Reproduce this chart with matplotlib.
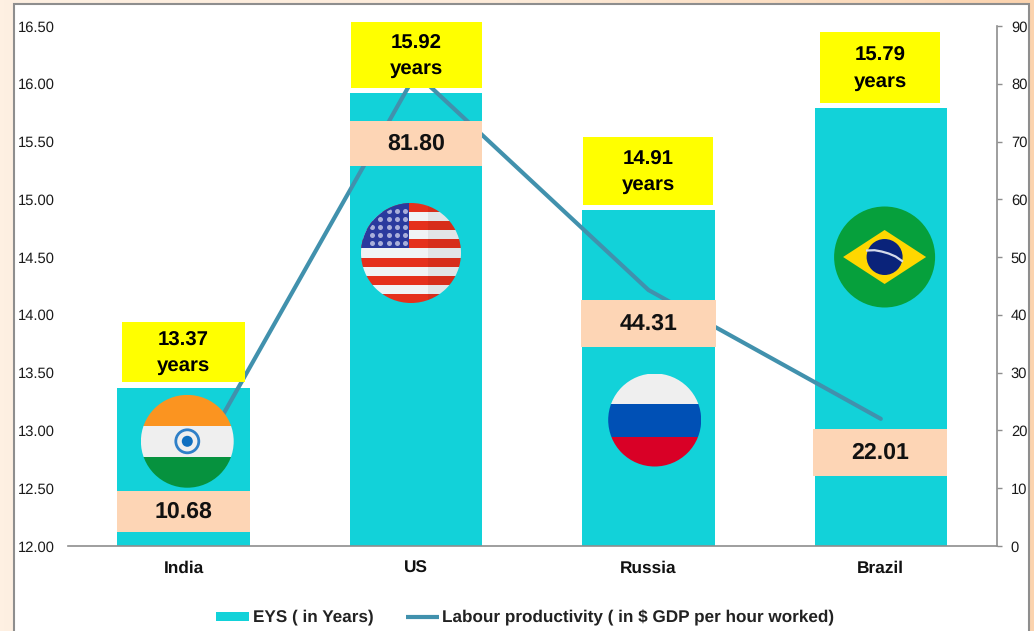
import numpy as np
import matplotlib
matplotlib.use('Agg')
import matplotlib.pyplot as plt
from matplotlib.patches import Rectangle, Circle, Polygon

plt.rcParams['font.family'] = ['Liberation Sans', 'DejaVu Sans']
plt.rcParams['text.hinting'] = 'none'

countries = ['India', 'US', 'Russia', 'Brazil']
eys = [13.37, 15.92, 14.91, 15.79]
productivity = [10.68, 81.80, 44.31, 22.01]
eys_ticks = [12, 12.5, 13, 13.5, 14, 14.5, 15, 15.5, 16, 16.5]
prod_ticks = [0, 10, 20, 30, 40, 50, 60, 70, 80, 90]

W, H = 1034, 631
TEAL = '#12D2D9'
LINE = '#4191AD'
PEACH = '#FDD5B5'
GREY = '#8E8E8E'

fig = plt.figure(figsize=(W / 100, H / 100), dpi=100)

# fondo degradado y panel blanco
bg = fig.add_axes([0, 0, 1, 1], zorder=0)
bg.imshow(np.linspace(0, 1, 256).reshape(1, -1), aspect='auto', extent=[0, W, H, 0],
          cmap=matplotlib.colors.LinearSegmentedColormap.from_list('bg', ['#FEF0E2', '#FDEBD9', '#FBD3AE']))
bg.add_patch(Rectangle((14, 4), 1015, H, fc='white', ec=GREY, lw=1.5))
bg.set_xlim(0, W)
bg.set_ylim(H, 0)
bg.axis('off')

# ejes principales
left, right, top, bottom = 67.5, 997, 26, 546
ax = fig.add_axes([left / W, 1 - bottom / H, (right - left) / W, (bottom - top) / H], zorder=1)
ax.patch.set_alpha(0)
x = np.arange(len(countries))
ax.bar(x, eys, width=0.57, color=TEAL, label='EYS ( in Years)')
ax.set_xlim(-0.5, 3.5)
ax.set_ylim(12, 16.5)
ax.set_xticks(x)
ax.set_xticklabels(countries, fontsize=12.4, fontweight='bold', color='#111111')
ax.set_yticks(eys_ticks)
ax.set_yticklabels(['%.2f' % t for t in eys_ticks], fontsize=10.6, color='#1A1A1A')
ax.tick_params(axis='x', length=0, pad=10.5)
ax.tick_params(axis='y', length=0, pad=9)
for s in ['top', 'left', 'right']:
    ax.spines[s].set_visible(False)
ax.spines['bottom'].set_color(GREY)
ax.spines['bottom'].set_linewidth(1.2)

ax2 = ax.twinx()
ax2.patch.set_alpha(0)
ax2.plot(x, productivity, color=LINE, lw=3, solid_capstyle='round',
         label='Labour productivity ( in $ GDP per hour worked)')
ax2.set_ylim(0, 90)
ax2.set_yticks(prod_ticks)
ax2.tick_params(axis='y', length=3.5, width=1, color=GREY, labelsize=10.6, labelcolor='#1A1A1A', pad=6.5)
for s in ['top', 'left', 'bottom']:
    ax2.spines[s].set_visible(False)
ax2.spines['right'].set_color(GREY)
ax2.spines['right'].set_linewidth(1.2)

# capa de etiquetas y banderas en pixeles
ov = fig.add_axes([0, 0, 1, 1], zorder=3)
ov.set_xlim(0, W)
ov.set_ylim(H, 0)
ov.axis('off')
ov.patch.set_alpha(0)

yellow_boxes = [(122, 322, 245, 382), (351, 22, 482, 88), (583, 137, 713, 205), (820, 32, 940, 103)]
peach_boxes = [(117, 491, 250, 532), (350, 121, 482, 166), (581, 300, 716, 347), (813, 429, 947, 476)]
for i in range(4):
    a, b, c, d = yellow_boxes[i]
    ov.add_patch(Rectangle((a, b), c - a, d - b, fc='#FFFF00', ec='none'))
    ov.text((a + c) / 2, (b + d) / 2 + 1, '%.2f\nyears' % eys[i], ha='center', va='center',
            fontsize=14.7, fontweight='bold', color='black', linespacing=1.47)
    a, b, c, d = peach_boxes[i]
    ov.add_patch(Rectangle((a, b), c - a, d - b, fc=PEACH, ec='none'))
    ov.text((a + c) / 2, (b + d) / 2 + 0.5, '%.2f' % productivity[i], ha='center', va='center',
            fontsize=16.7, fontweight='bold', color='#111111')


def flag_bands(cx, cy, r, colors, heights):
    clip = Circle((cx, cy), r, transform=ov.transData)
    y0 = cy - r
    for col, h in zip(colors, heights):
        p = Rectangle((cx - r, y0), 2 * r, h, fc=col, ec='none')
        ov.add_patch(p)
        p.set_clip_path(clip)
        y0 += h
    return clip


# India
cx, cy, r = 187.3, 441.3, 46.4
flag_bands(cx, cy, r, ['#FB9420', '#EFEFEF', '#06923E'], [31, 31, 31])
ov.add_patch(Circle((cx, cy), 11.5, fc='#EFEFEF', ec='#2F80C8', lw=2))
ov.add_patch(Circle((cx, cy), 5.5, fc='#0F6FC0', ec='none'))

# US
cx, cy, r = 411, 253, 50
flag_bands(cx, cy, r, ['#E5301C', '#F0F3F5'] * 5 + ['#E5301C'], [100 / 11] * 11)
canton = Rectangle((cx - r, cy - r), r - 2, 45, fc='#2A3A9E', ec='none')
ov.add_patch(canton)
canton.set_clip_path(Circle((cx, cy), r, transform=ov.transData))
shade = Rectangle((cx + 17, cy - r), 40, 2 * r, fc='black', alpha=0.06, ec='none')
ov.add_patch(shade)
shade.set_clip_path(Circle((cx, cy), r, transform=ov.transData))
stars_x = np.arange(cx - r + 11, cx - 4, 8.3)
stars_y = np.arange(cy - r + 8, cy - 7, 8.0)
sx, sy = np.meshgrid(stars_x, stars_y)
st = ov.scatter(sx.ravel(), sy.ravel(), s=13, c='#A9AFDA', linewidths=0)
st.set_clip_path(Circle((cx, cy), r - 2, transform=ov.transData))

# Russia
cx, cy, r = 654.7, 420, 46.5
flag_bands(cx, cy, r, ['#EFEFEF', '#0050B5', '#D90026'], [30, 33, 31])

# Brazil
cx, cy, r = 884.6, 257, 50.5
ov.add_patch(Circle((cx, cy), r, fc='#06A03C', ec='none'))
ov.add_patch(Polygon([(cx - 41.5, cy), (cx, cy - 27), (cx + 41.5, cy), (cx, cy + 27)], fc='#FFD700', ec='none'))
ov.add_patch(Circle((cx, cy), 18, fc='#0A237A', ec='none'))
ov.plot([cx - 17.5, cx - 10, cx - 3, cx + 4, cx + 11, cx + 17.5],
        [cy - 6.5, cy - 6.8, cy - 5.5, cy - 3.5, cy - 0.5, cy + 4], color='#D5DAEA', lw=1.6)

# leyenda
ov.add_patch(Rectangle((216, 612), 33, 9, fc=TEAL, ec='none'))
ov.text(253, 617.5, 'EYS ( in Years)', fontsize=12.3, fontweight='bold', color='#222222', va='center')
ov.plot([406, 439], [617, 617], color=LINE, lw=3, solid_capstyle='butt')
ov.text(442, 617.5, 'Labour productivity ( in $ GDP per hour worked)', fontsize=12.3, fontweight='bold',
        color='#222222', va='center')

fig.savefig('out.png', dpi=100)
